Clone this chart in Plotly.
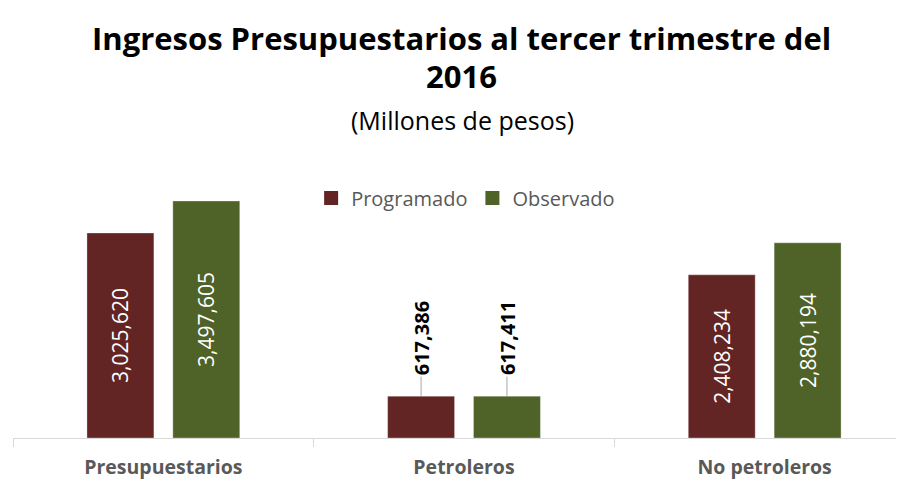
import plotly.graph_objects as go

categories = ["Presupuestarios", "Petroleros", "No petroleros"]
programado = [3025620, 617386, 2408234]
observado = [3497605, 617411, 2880194]
series_names = ["Programado", "Observado"]
title_line1 = "Ingresos Presupuestarios al tercer trimestre del"
title_line2 = "2016"
subtitle = "(Millones de pesos)"

RED = "#632523"
GREEN = "#4F6228"
FONT = "Open Sans"

bar_w = 0.2226
offsets = [-0.254, 0.0316]
inside_pos = ["inside", "none", "inside"]
small_idx = 1

fig = go.Figure()
for name, vals, col, off in zip(series_names, [programado, observado], [RED, GREEN], offsets):
    fig.add_trace(go.Bar(
        name=name, x=categories, y=vals, width=bar_w, offset=off,
        marker=dict(color=col, line=dict(color="rgba(255,255,255,0.3)", width=1)),
        text=[f"{v:,}" for v in vals], textposition=inside_pos,
        textangle=-90, insidetextanchor="middle",
        textfont=dict(family=FONT, size=21, color="white"),
        hoverinfo="skip", showlegend=False,
    ))
    # legend entry with a larger square swatch
    fig.add_trace(go.Scatter(
        name=name, x=[None], y=[None], mode="markers",
        marker=dict(symbol="square", size=14, color=col), hoverinfo="skip",
    ))
    fig.add_annotation(
        x=small_idx + off + bar_w / 2, y=vals[small_idx], xref="x", yref="y",
        text=f"<b>{vals[small_idx]:,}</b>", textangle=-90,
        showarrow=True, arrowhead=0, arrowwidth=1, arrowcolor="#A6A6A6",
        ax=0, ay=-58, standoff=0,
        font=dict(family=FONT, size=20, color="black"),
    )

fig.add_annotation(x=0.5034, y=1.476, xref="paper", yref="paper", yanchor="middle",
                   text=f"<b>{title_line1}</b>", showarrow=False,
                   font=dict(family=FONT, size=31, color="black"))
fig.add_annotation(x=0.5034, y=1.336, xref="paper", yref="paper", yanchor="middle",
                   text=f"<b>{title_line2}</b>", showarrow=False,
                   font=dict(family=FONT, size=31, color="black"))
fig.add_annotation(x=0.5045, y=1.173, xref="paper", yref="paper", yanchor="middle",
                   text=subtitle, showarrow=False,
                   font=dict(family=FONT, size=25, color="black"))

fig.update_layout(
    width=904, height=481,
    margin=dict(l=5, r=8, t=159, b=51),
    paper_bgcolor="white", plot_bgcolor="white",
    barmode="overlay",
    showlegend=True,
    legend=dict(orientation="h", x=0.508, y=0.886, xanchor="center", yanchor="middle",
                font=dict(family=FONT, size=20, color="#595959"),
                bgcolor="rgba(0,0,0,0)"),
    xaxis=dict(type="category", range=[-0.5, 2.4635], showline=True, linecolor="#D9D9D9",
               linewidth=1, ticks="outside", tickson="boundaries", ticklen=8,
               tickcolor="#D9D9D9", showgrid=False, zeroline=False, ticklabelstandoff=12,
               tickfont=dict(family=FONT, size=19.5, color="#595959", weight="bold")),
    yaxis=dict(range=[0, 4000000], visible=False, showgrid=False),
)

fig.write_html("out.html")
